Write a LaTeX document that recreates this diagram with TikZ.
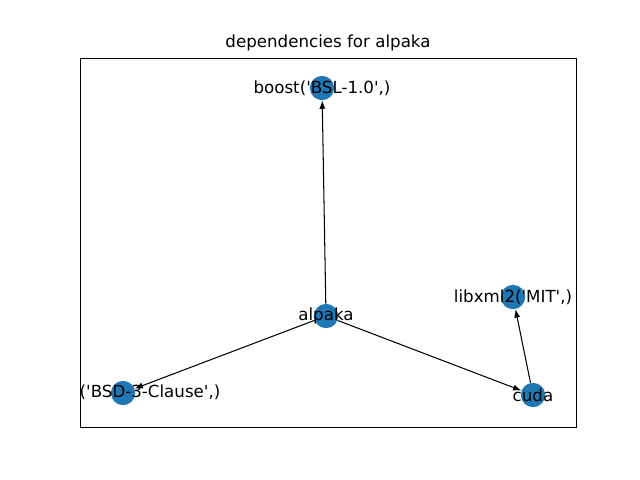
\documentclass[tikz,border=0pt]{standalone}
\usepackage{fontspec}
\setmainfont{DejaVu Sans}
\usetikzlibrary{%
	arrows.meta,%
	calc
}
\definecolor{nodeblue}{HTML}{1F77B4}
\newcommand{\sq}{\textquotesingle}

\begin{document}
\begin{tikzpicture}[x=0.72pt,y=-0.72pt,>={Latex[length=6pt,width=4.4pt]},
	dot/.style={circle,fill=nodeblue,inner sep=0pt,minimum size=17.5pt},
	lbl/.style={font=\fontsize{12}{14}\selectfont,inner sep=0pt},
	dep/.style={->,line width=0.75pt}]
				% Frame
				\useasboundingbox (0,0) rectangle (640,480);
				\draw[line width=0.6pt] (80,58) rectangle (576,427);
				\node[lbl] (title) at (328,43) {dependencies for alpaka};
				
				% Vertices
				\node[dot] (alpaka) at (326,316) {};
				\node[dot] (boost) at (322,88) {};
				\node[dot] (bsd) at (123,393) {};
				\node[dot] (cuda) at (533,395) {};
				\node[dot] (libxml) at (513,297) {};
				
				% Edges
				\draw[dep] (alpaka) -- (boost);
				\draw[dep] (alpaka) -- (bsd);
				\draw[dep] (alpaka) -- (cuda);
				\draw[dep] (cuda) -- (libxml);
				
				% Labels
				\node[lbl] (alpakaL) at (alpaka) {alpaka};
				\node[lbl] (boostL) at (boost) {boost(\sq BSL-1.0\sq,)};
				\node[lbl] (bsdL) at (150,392) {(\sq BSD-3-Clause\sq,)};
				\node[lbl] (cudaL) at (cuda) {cuda};
				\node[lbl] (libxmlL) at (libxml) {libxml2(\sq MIT\sq,)};
			\end{tikzpicture}
\end{document}
